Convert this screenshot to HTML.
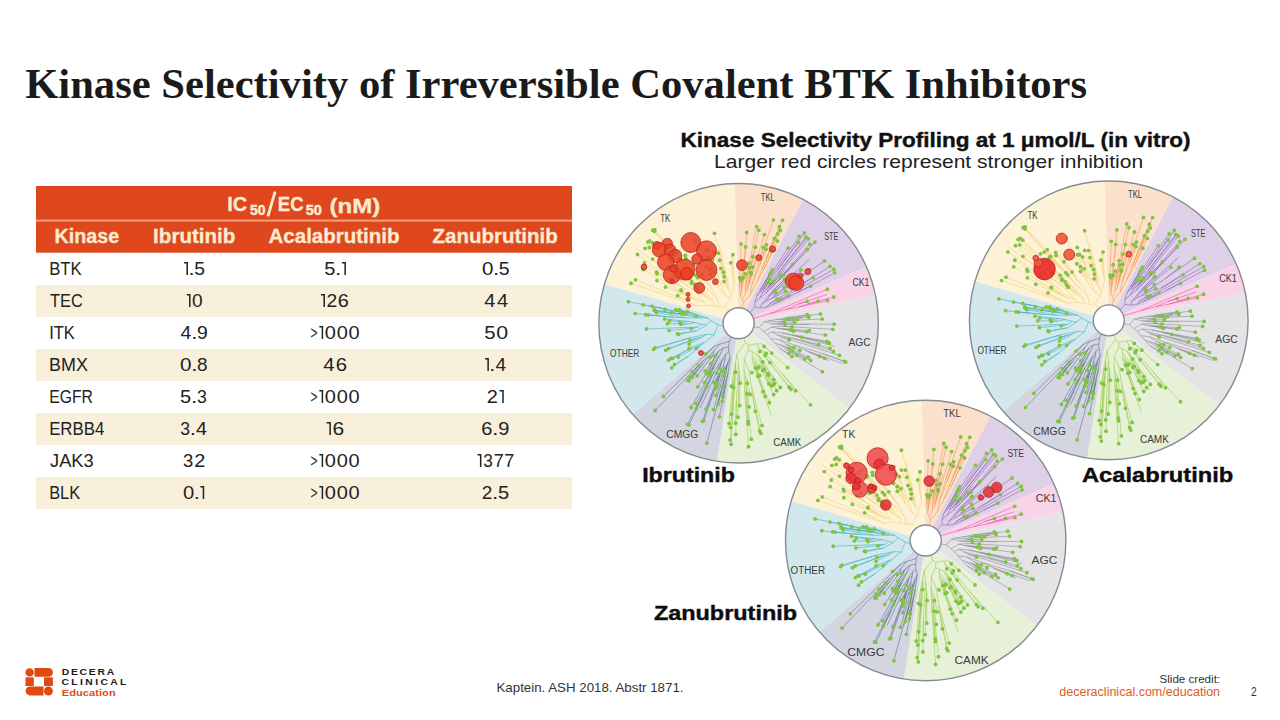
<!DOCTYPE html>
<html><head><meta charset="utf-8"><style>
html,body{margin:0;padding:0;background:#fff;width:1280px;height:720px;overflow:hidden}
svg{display:block}
</style></head><body>
<svg width="1280" height="720" viewBox="0 0 1280 720">
<defs><g id="tree"><path d="M0 0L-133.9 -39.2A139.5 139.5 0 0 1 -3.9 -139.4Z" fill="#FDF2D6"/>
<path d="M0 0L-3.9 -139.4A139.5 139.5 0 0 1 64.4 -123.7Z" fill="#FBE1CB"/>
<path d="M0 0L64.4 -123.7A139.5 139.5 0 0 1 127.5 -56.5Z" fill="#DED1E7"/>
<path d="M0 0L127.5 -56.5A139.5 139.5 0 0 1 136.7 -27.8Z" fill="#F9D4E8"/>
<path d="M0 0L136.7 -27.8A139.5 139.5 0 0 1 110.7 84.9Z" fill="#E4E4E6"/>
<path d="M0 0L110.7 84.9A139.5 139.5 0 0 1 -21.6 137.8Z" fill="#E7F1D7"/>
<path d="M0 0L-21.6 137.8A139.5 139.5 0 0 1 -105.8 91Z" fill="#D3D5E1"/>
<path d="M0 0L-105.8 91A139.5 139.5 0 0 1 -133.9 -39.2Z" fill="#D3E8EC"/>
<path d="M-9.5 -12.3L-14.2 -16.5M-14.2 -16.5L-19.3 -16M-19.3 -16L-24.4 -17.1M-24.4 -17.1L-31.1 -17.9M-31.1 -17.9L-41.6 -17.3M-41.6 -17.3L-107.3 -39.9M-41.6 -17.3L-49.5 -21.6M-49.5 -21.6L-102.9 -43.3M-49.5 -21.6L-60.8 -27.5M-31.1 -17.9L-34.5 -21.1M-34.5 -21.1L-38.1 -22.3M-38.1 -22.3L-41.4 -22.6M-41.4 -22.6L-73 -36.1M-41.4 -22.6L-43.9 -24.3M-43.9 -24.3L-81.4 -42.6M-43.9 -24.3L-46.4 -26M-46.4 -26L-59.9 -32.3M-46.4 -26L-48.9 -27.7M-48.9 -27.7L-52.6 -29.3M-48.9 -27.7L-51.4 -29.3M-51.4 -29.3L-95.1 -53.6M-51.4 -29.3L-54 -30.9M-54 -30.9L-57.5 -32.7M-54 -30.9L-57.4 -33M-38.1 -22.3L-52.1 -33.3M-52.1 -33.3L-60.6 -38.2M-60.6 -38.2L-81.3 -49.3M-60.6 -38.2L-62.9 -40.1M-62.9 -40.1L-82 -50.9M-62.9 -40.1L-65.1 -42.1M-65.1 -42.1L-94 -60.2M-65.1 -42.1L-68.3 -44.6M-52.1 -33.3L-100.9 -68.6M-34.5 -21.1L-42.6 -31.4M-42.6 -31.4L-51.6 -37.8M-51.6 -37.8L-102.4 -74.9M-51.6 -37.8L-64.3 -47.1M-42.6 -31.4L-85.8 -64.1M-24.4 -17.1L-25.4 -22.3M-25.4 -22.3L-28.4 -23.6M-28.4 -23.6L-33.3 -26.9M-33.3 -26.9L-93.4 -74.8M-33.3 -26.9L-40.6 -33.1M-28.4 -23.6L-31.2 -26.2M-31.2 -26.2L-41.2 -34.1M-31.2 -26.2L-37 -31.2M-37 -31.2L-39.3 -33.1M-39.3 -33.1L-42.4 -35.6M-39.3 -33.1L-56 -47.1M-37 -31.2L-41 -34.9M-41 -34.9L-89.1 -75.6M-41 -34.9L-46.9 -40M-25.4 -22.3L-31.8 -29.2M-31.8 -29.2L-35.7 -32.5M-35.7 -32.5L-38.3 -34M-38.3 -34L-40.7 -35.9M-40.7 -35.9L-46.9 -41.4M-40.7 -35.9L-43.6 -38.6M-38.3 -34L-90.6 -81M-35.7 -32.5L-39.8 -37M-39.8 -37L-43.2 -40M-43.2 -40L-48.6 -45.1M-43.2 -40L-88.7 -82.2M-39.8 -37L-48.1 -44.8M-48.1 -44.8L-55.2 -51.5M-48.1 -44.8L-86.1 -80.3M-31.8 -29.2L-68.4 -66.7M-19.3 -16L-21.3 -24.6M-21.3 -24.6L-29.3 -32.1M-29.3 -32.1L-47.9 -50.8M-47.9 -50.8L-64.7 -68.4M-47.9 -50.8L-59.4 -63.2M-29.3 -32.1L-34.4 -38M-34.4 -38L-36.5 -40.2M-36.5 -40.2L-47.3 -51.6M-47.3 -51.6L-69.9 -76M-69.9 -76L-85.6 -92.8M-69.9 -76L-85.5 -93M-47.3 -51.6L-50.9 -55.8M-50.9 -55.8L-83.9 -91.7M-50.9 -55.8L-58.2 -63.9M-36.5 -40.2L-38.3 -42.6M-38.3 -42.6L-41 -45.5M-38.3 -42.6L-40.2 -44.9M-40.2 -44.9L-42.9 -47.8M-40.2 -44.9L-83.7 -93.5M-34.4 -38L-61.6 -70.8M-21.3 -24.6L-27.6 -35.8M-27.6 -35.8L-31.2 -40M-31.2 -40L-52.7 -64.9M-31.2 -40L-32.8 -42.6M-32.8 -42.6L-53.2 -67.8M-32.8 -42.6L-34.4 -45.2M-34.4 -45.2L-44.8 -58.7M-34.4 -45.2L-36.8 -48.4M-27.6 -35.8L-52.3 -70.5M-14.2 -16.5L-8.4 -24.3M-8.4 -24.3L-13.9 -28.3M-13.9 -28.3L-19.6 -35.9M-19.6 -35.9L-24.8 -43.4M-24.8 -43.4L-28.2 -49M-24.8 -43.4L-32 -56.7M-19.6 -35.9L-21.6 -41.4M-21.6 -41.4L-28.3 -53.7M-21.6 -41.4L-42.6 -82.4M-13.9 -28.3L-16.9 -37.8M-16.9 -37.8L-21 -43.9M-21 -43.9L-24.7 -51.6M-21 -43.9L-31.3 -65.7M-16.9 -37.8L-21.2 -49.5M-21.2 -49.5L-29.1 -65.7M-21.2 -49.5L-23.8 -56.5M-23.8 -56.5L-31.5 -73.1M-23.8 -56.5L-26.1 -63.5M-8.4 -24.3L-7.3 -28.8M-7.3 -28.8L-9.8 -32.6M-9.8 -32.6L-11.2 -35.3M-11.2 -35.3L-13.1 -37.8M-13.1 -37.8L-14.6 -41.6M-13.1 -37.8L-24.1 -70.1M-11.2 -35.3L-11.6 -38.3M-11.6 -38.3L-17.7 -54.8M-11.6 -38.3L-12.3 -41.2M-12.3 -41.2L-14.4 -46.4M-12.3 -41.2L-13 -44.2M-13 -44.2L-14 -47M-14 -47L-18.8 -62.9M-14 -47L-15.1 -50.9M-13 -44.2L-20.2 -69.9M-9.8 -32.6L-10.6 -40.8M-10.6 -40.8L-12.4 -46.2M-12.4 -46.2L-24.1 -89.8M-12.4 -46.2L-15.3 -57.4M-10.6 -40.8L-19.4 -78.2M-7.3 -28.8L-4.2 -39.8M-4.2 -39.8L-5.5 -46.1M-5.5 -46.1L-7.9 -60.3M-5.5 -46.1L-7.1 -67.5M-4.2 -39.8L-5.7 -68.4" stroke="#F4D27A" stroke-width="0.6" fill="none"/>
<path d="M3.5 -15.1L4.8 -20.4M4.8 -20.4L3.7 -23.6M3.7 -23.6L2 -26.9M2 -26.9L1 -35.2M1 -35.2L1.1 -45.4M1 -35.2L2.4 -79.2M2 -26.9L2.6 -31.2M2.6 -31.2L2.6 -34.2M2.6 -34.2L2.1 -43.1M2.6 -34.2L3.1 -37.2M3.1 -37.2L2.8 -40.2M2.8 -40.2L2.6 -44.2M2.8 -40.2L3.2 -43.2M3.2 -43.2L3.4 -47.2M3.2 -43.2L4.4 -55.8M3.1 -37.2L3.8 -40.1M3.8 -40.1L5.6 -61.2M5.6 -61.2L8.1 -90.6M5.6 -61.2L7 -76.1M3.8 -40.1L4.6 -45.4M2.6 -31.2L6.6 -49.4M3.7 -23.6L6.7 -29.9M6.7 -29.9L6.7 -34.1M6.7 -34.1L7.1 -39.4M7.1 -39.4L7.4 -42.4M7.4 -42.4L7.6 -45.4M7.6 -45.4L8.1 -49.4M7.6 -45.4L10.3 -59.9M7.4 -42.4L18 -96.5M7.1 -39.4L11 -55.4M6.7 -34.1L10.6 -49M10.6 -49L14.2 -66.4M10.6 -49L12.7 -58.3M12.7 -58.3L20.2 -92.9M12.7 -58.3L16.7 -75.9M6.7 -29.9L8.6 -33.1M8.6 -33.1L9.2 -36.6M9.2 -36.6L12.2 -50.6M9.2 -36.6L10.1 -39.5M10.1 -39.5L10.7 -42.4M10.7 -42.4L14.1 -56.3M10.7 -42.4L11.5 -45.3M11.5 -45.3L12.4 -49.2M11.5 -45.3L12.5 -49.2M10.1 -39.5L17.3 -66.4M8.6 -33.1L25.8 -88.5M4.8 -20.4L11.6 -28.5M11.6 -28.5L13.2 -38.1M13.2 -38.1L20.1 -60.7M20.1 -60.7L24.6 -75.8M20.1 -60.7L34.8 -103M13.2 -38.1L21 -57.7M21 -57.7L27.8 -78.3M21 -57.7L27.4 -73.9M11.6 -28.5L18.1 -40.9M18.1 -40.9L23 -53.4M23 -53.4L27 -63.4M27 -63.4L30.4 -71.8M30.4 -71.8L32.6 -77.4M32.6 -77.4L35.7 -84.8M32.6 -77.4L40.7 -96.3M30.4 -71.8L43.9 -102.8M27 -63.4L39 -89.3M23 -53.4L41.6 -92.6M18.1 -40.9L25 -53.2M25 -53.2L38.6 -82.1M25 -53.2L34.1 -72.3" stroke="#F29A52" stroke-width="0.6" fill="none"/>
<path d="M11.3 -10.6L16.2 -15.9M16.2 -15.9L16.2 -20.7M16.2 -20.7L18.1 -27.1M18.1 -27.1L21.5 -33.3M21.5 -33.3L25.8 -40.4M25.8 -40.4L33.7 -53.2M25.8 -40.4L29.2 -45.5M29.2 -45.5L31.3 -48.9M29.2 -45.5L32.6 -50.8M21.5 -33.3L49.5 -74.9M18.1 -27.1L21.4 -30.7M21.4 -30.7L27.8 -39.9M21.4 -30.7L25.5 -36.6M25.5 -36.6L60.5 -86.7M25.5 -36.6L30.6 -43.9M16.2 -20.7L21 -25M21 -25L23.9 -30.5M23.9 -30.5L25.1 -34.1M25.1 -34.1L39.6 -54M39.6 -54L65.6 -90.2M39.6 -54L59.5 -80.5M25.1 -34.1L30.1 -40.3M23.9 -30.5L26.3 -32.4M26.3 -32.4L39.2 -49.8M39.2 -49.8L67.2 -86M39.2 -49.8L68.9 -86.6M26.3 -32.4L29.3 -35.5M29.3 -35.5L34.3 -41.5M29.3 -35.5L32.2 -38.9M32.2 -38.9L34.7 -42M32.2 -38.9L69.7 -84.3M21 -25L27.2 -29.9M27.2 -29.9L31.7 -36.8M31.7 -36.8L41.2 -47.8M31.7 -36.8L46.6 -54M27.2 -29.9L32 -34.6M32 -34.6L71.1 -79M32 -34.6L38 -40.8M38 -40.8L53.8 -58.5M38 -40.8L40.2 -42.9M40.2 -42.9L42.2 -45.2M42.2 -45.2L44.9 -48.1M42.2 -45.2L68.6 -73.5M40.2 -42.9L76.2 -81M16.2 -15.9L21.6 -15.3M21.6 -15.3L23.4 -19.3M23.4 -19.3L33.2 -31.5M33.2 -31.5L45.6 -43.4M33.2 -31.5L46.3 -43.8M23.4 -19.3L28.2 -22.5M28.2 -22.5L30.8 -27.1M30.8 -27.1L33.5 -29.9M33.5 -29.9L70.3 -63.6M33.5 -29.9L36.7 -32.4M30.8 -27.1L62.3 -53.1M28.2 -22.5L32.2 -24.2M32.2 -24.2L34.9 -26.9M34.9 -26.9L37.2 -30.4M34.9 -26.9L37.7 -28.5M37.7 -28.5L45.7 -35.8M37.7 -28.5L56.9 -42.1M56.9 -42.1L70.5 -53.2M56.9 -42.1L85.9 -62.2M32.2 -24.2L47 -31.9M21.6 -15.3L27.6 -15.8M27.6 -15.8L30.2 -18.8M30.2 -18.8L38.4 -24.2M30.2 -18.8L52.2 -32.2M52.2 -32.2L91.2 -56.7M52.2 -32.2L74.4 -45.6M27.6 -15.8L33.9 -18.5M33.9 -18.5L38.1 -21.9M38.1 -21.9L41.7 -24.3M38.1 -21.9L95.1 -53.9M33.9 -18.5L38.8 -20.6M38.8 -20.6L50.1 -27.4M38.8 -20.6L57.5 -30M57.5 -30L95.8 -50.3M57.5 -30L71.8 -37.1" stroke="#8B62B6" stroke-width="0.6" fill="none"/>
<path d="M14.8 -4.7L31.1 -9.5M31.1 -9.5L88.5 -34M31.1 -9.5L47.3 -13.7M47.3 -13.7L58.6 -18.8M58.6 -18.8L88 -28.6M58.6 -18.8L68.4 -21.8M47.3 -13.7L60.4 -16.3M60.4 -16.3L69.5 -19.3M69.5 -19.3L79.4 -22.1M69.5 -19.3L95 -26.2M60.4 -16.3L88.7 -22.7" stroke="#E94FAE" stroke-width="0.6" fill="none"/>
<path d="M15.1 3.5L20.5 4.3M20.5 4.3L25.7 -1.5M25.7 -1.5L29.8 -2.3M29.8 -2.3L36.8 -3.6M36.8 -3.6L47.4 -5.5M47.4 -5.5L68.4 -8.5M47.4 -5.5L60.2 -6.7M60.2 -6.7L81.7 -9.2M60.2 -6.7L72.8 -8M36.8 -3.6L42.5 -3.7M42.5 -3.7L45.5 -4.2M45.5 -4.2L49.5 -4.6M45.5 -4.2L63.4 -5.8M42.5 -3.7L46.7 -3.9M46.7 -3.9L64.3 -5.5M46.7 -3.9L49.7 -4.2M49.7 -4.2L53.6 -4.5M49.7 -4.2L70.1 -5.9M29.8 -2.3L38.6 -1.5M38.6 -1.5L48.5 -2.7M48.5 -2.7L58.7 -3.7M48.5 -2.7L83.4 -4.2M38.6 -1.5L41.6 -1M41.6 -1L45.6 -1.3M41.6 -1L55.7 -1M25.7 -1.5L33.6 0.6M33.6 0.6L95.4 1M33.6 0.6L38.2 0.8M38.2 0.8L70.6 1.4M38.2 0.8L46.4 1M20.5 4.3L25.1 8.2M25.1 8.2L33.1 3.7M33.1 3.7L44 3M44 3L94 6.1M44 3L53.4 3.7M33.1 3.7L38.2 4.9M38.2 4.9L70.6 7.3M38.2 4.9L41.7 5.5M41.7 5.5L44.7 5.8M44.7 5.8L47.7 6M47.7 6L50.7 6.3M50.7 6.3L54.6 6.8M50.7 6.3L68.1 8.6M47.7 6L51.6 6.7M44.7 5.8L86.6 11.8M41.7 5.5L54.7 7.9M25.1 8.2L28.7 11.3M28.7 11.3L33.1 8.7M33.1 8.7L43 9.5M43 9.5L53.3 11.5M53.3 11.5L88.2 18M53.3 11.5L56.2 12.3M56.2 12.3L90.6 19.7M56.2 12.3L59.1 13M59.1 13L88.9 19.6M59.1 13L63 13.9M43 9.5L95.8 23M33.1 8.7L38.3 11.5M38.3 11.5L53 14.8M53 14.8L63.5 17.2M63.5 17.2L79.7 21.4M63.5 17.2L91.3 25M53 14.8L94.7 28.1M38.3 11.5L42.2 13.6M42.2 13.6L46.9 14.9M46.9 14.9L100.7 32.1M46.9 14.9L50.7 16.2M42.2 13.6L50.4 16.5M28.7 11.3L32.1 15.3M32.1 15.3L40.8 16.4M40.8 16.4L55.7 21.7M55.7 21.7L83.1 30M83.1 30L106.9 38.6M83.1 30L105.7 38.2M55.7 21.7L66.8 27M66.8 27L103.5 40M66.8 27L70.1 28.7M70.1 28.7L75.8 30.8M75.8 30.8L85.9 35M75.8 30.8L81 33M70.1 28.7L90.3 37.4M40.8 16.4L47.2 20.8M47.2 20.8L55.2 24.2M47.2 20.8L61.1 27.1M32.1 15.3L36.1 19.6M36.1 19.6L40.2 21.1M40.2 21.1L44.4 22.4M44.4 22.4L47.3 23.1M47.3 23.1L69.6 33.8M47.3 23.1L50.9 25.1M44.4 22.4L47.2 24.3M47.2 24.3L49.9 25.7M49.9 25.7L53.5 27.5M49.9 25.7L72 37.1M47.2 24.3L73.1 37.8M40.2 21.1L48 26.7M48 26.7L52.5 28.7M52.5 28.7L66 35.7M52.5 28.7L58.2 32.1M48 26.7L83.6 48.3M36.1 19.6L41.3 25.3M41.3 25.3L50.4 30.3M41.3 25.3L53.4 33.3" stroke="#8C8F96" stroke-width="0.6" fill="none"/>
<path d="M5.8 14.4L6.7 19.6M6.7 19.6L10.1 21.9M10.1 21.9L18.3 20.5M18.3 20.5L22.6 20.4M22.6 20.4L26.1 23.5M26.1 23.5L33.1 29.8M26.1 23.5L49 44.2M22.6 20.4L25.5 23.1M18.3 20.5L19.6 23.8M19.6 23.8L21.7 26M21.7 26L24.4 27.6M24.4 27.6L27.7 30M24.4 27.6L43.1 50M43.1 50L71.8 81.4M43.1 50L56.9 67.5M21.7 26L23.6 29.4M23.6 29.4L26.4 32.3M23.6 29.4L26.8 33.8M26.8 33.8L28.7 36.1M28.7 36.1L31.4 39.4M28.7 36.1L52.3 65.9M26.8 33.8L50.4 63.8M19.6 23.8L21.1 28.3M10.1 21.9L9.7 27M9.7 27L13.8 28.5M13.8 28.5L18.1 30.7M18.1 30.7L20.6 32.6M20.6 32.6L41.6 64.1M20.6 32.6L22 35.3M22 35.3L35.1 56.2M22 35.3L24.1 38.7M18.1 30.7L21.1 37M21.1 37L35.9 60.4M21.1 37L22.4 39.7M22.4 39.7L25.5 44.4M25.5 44.4L29.5 50.5M25.5 44.4L26.9 47.3M26.9 47.3L29.7 51.9M26.9 47.3L38 67.3M22.4 39.7L23.4 42.6M23.4 42.6L25.4 46.1M23.4 42.6L34 62M13.8 28.5L13.5 31.9M13.5 31.9L20.8 41.1M20.8 41.1L32.7 62.6M20.8 41.1L22 43.8M22 43.8L24.1 47.2M22 43.8L26.4 53.3M26.4 53.3L30.2 60.4M26.4 53.3L35 71.2M13.5 31.9L13.7 35.2M13.7 35.2L15.9 37.6M15.9 37.6L17.8 40.3M17.8 40.3L19.9 43.7M17.8 40.3L19.2 44.8M15.9 37.6L18.1 44.7M18.1 44.7L20.5 50.5M18.1 44.7L21 52.1M13.7 35.2L14 38.3M14 38.3L15.6 40.9M15.6 40.9L30.7 79.3M15.6 40.9L16.8 44.7M14 38.3L16.6 46.3M16.6 46.3L17.8 49.1M17.8 49.1L19.2 52.8M17.8 49.1L26.4 73M16.6 46.3L19 53.3M19 53.3L24.4 68.3M19 53.3L32.5 91.5M9.7 27L5.6 35.9M5.6 35.9L9.9 45.9M9.9 45.9L13.3 49.2M9.9 45.9L13.1 64.4M13.1 64.4L23.4 102.1M13.1 64.4L13.9 71.4M13.9 71.4L22.1 109.8M13.9 71.4L15.2 79M15.2 79L20.9 107.4M15.2 79L16.7 88M5.6 35.9L5.4 46.3M5.4 46.3L7 53.1M7 53.1L8.6 55.9M8.6 55.9L11.5 71.1M8.6 55.9L8.7 59.9M7 53.1L7.1 60.2M7.1 60.2L7.8 63.6M7.8 63.6L10.5 83.5M7.8 63.6L8.5 70.4M7.1 60.2L12.7 115.7M5.4 46.3L5.9 64.8M5.9 64.8L7.6 78.2M7.6 78.2L9.8 100.6M7.6 78.2L9.5 97.9M5.9 64.8L9.9 123.3M6.7 19.6L-1.5 30.2M-1.5 30.2L-0.2 41.1M-0.2 41.1L0.5 47.6M0.5 47.6L1 52M1 52L1.5 59.8M1 52L1 82.2M0.5 47.6L-0.6 93.7M-0.2 41.1L-2.1 76.2M-2.1 76.2L-2.8 110.9M-2.1 76.2L-3 99.7M-1.5 30.2L-3.1 38.8M-3.1 38.8L-3 41.8M-3 41.8L-2.8 44.8M-2.8 44.8L-7.4 120.8M-2.8 44.8L-3.1 48.8M-3 41.8L-4.1 54.3M-4.1 54.3L-8.5 116.6M-4.1 54.3L-4.4 57.3M-4.4 57.3L-7.9 104.1M-4.4 57.3L-4.7 60.3M-4.7 60.3L-5 64.3M-4.7 60.3L-7.1 90.8M-3.1 38.8L-5 48.3M-5 48.3L-9.5 100.1M-5 48.3L-7.1 62.8" stroke="#9BCB52" stroke-width="0.6" fill="none"/>
<path d="M-7.5 13.5L-9.2 17.9M-9.2 17.9L-10.1 23.7M-10.1 23.7L-9.8 28.3M-9.8 28.3L-8.5 34M-8.5 34L-10.5 49.2M-10.5 49.2L-12.5 60M-12.5 60L-19.2 93.4M-12.5 60L-14.1 67.4M-14.1 67.4L-16.3 77.9M-14.1 67.4L-15.4 73.2M-10.5 49.2L-16.5 72.2M-8.5 34L-10.4 38.4M-10.4 38.4L-13.6 53M-13.6 53L-14.2 55.9M-14.2 55.9L-14.8 58.9M-14.8 58.9L-15.7 62.8M-14.8 58.9L-20.3 80.5M-14.2 55.9L-21.9 84.7M-13.6 53L-31.7 119.7M-10.4 38.4L-11.7 41.2M-11.7 41.2L-12.3 44.1M-12.3 44.1L-14.6 52.6M-12.3 44.1L-13.4 48M-11.7 41.2L-12.7 44M-12.7 44L-13.7 47.9M-12.7 44L-25.1 86.2M-9.8 28.3L-12.8 30.9M-12.8 30.9L-13.4 35.3M-13.4 35.3L-14.8 40.9M-14.8 40.9L-14.5 44.2M-14.5 44.2L-22.6 71.9M-14.5 44.2L-16.4 47.8M-14.8 40.9L-17.3 46.5M-17.3 46.5L-18.2 49.7M-18.2 49.7L-18.9 52.8M-18.9 52.8L-19.9 55.7M-19.9 55.7L-20.9 58.5M-20.9 58.5L-22.2 62.3M-20.9 58.5L-23.3 65.2M-19.9 55.7L-21.8 61M-18.9 52.8L-34.8 97.2M-18.2 49.7L-19.8 52.3M-19.8 52.3L-36 97.9M-19.8 52.3L-21.1 55M-21.1 55L-32.6 85.7M-21.1 55L-22.7 58.7M-17.3 46.5L-24.3 59.5M-13.4 35.3L-16.7 38.1M-16.7 38.1L-17.7 40.9M-17.7 40.9L-19.2 44.7M-17.7 40.9L-21.7 49.8M-16.7 38.1L-38.5 84.7M-12.8 30.9L-24.2 47.9M-24.2 47.9L-28.2 56.6M-28.2 56.6L-34.8 70.8M-34.8 70.8L-49.4 101.4M-34.8 70.8L-42.2 85.3M-28.2 56.6L-30 59.4M-30 59.4L-51 101M-30 59.4L-31.9 63M-24.2 47.9L-42.6 80.2M-10.1 23.7L-15.4 24.7M-15.4 24.7L-18.7 31.7M-18.7 31.7L-21.2 36.7M-21.2 36.7L-23.4 41.1M-23.4 41.1L-24.7 44.1M-24.7 44.1L-26.4 47.2M-26.4 47.2L-28.5 51.1M-26.4 47.2L-29.2 52.3M-24.7 44.1L-47.4 84.1M-23.4 41.1L-25.2 43.5M-25.2 43.5L-27 47M-27 47L-33.9 59.2M-27 47L-30.8 53.4M-25.2 43.5L-27.6 47.2M-21.2 36.7L-30.5 49.6M-18.7 31.7L-25.1 39.1M-25.1 39.1L-32.3 50.3M-25.1 39.1L-40.8 63.6M-15.4 24.7L-19.3 27.2M-19.3 27.2L-22.5 32.7M-22.5 32.7L-27.8 40.4M-22.5 32.7L-33.2 47.9M-19.3 27.2L-21.3 29.4M-21.3 29.4L-23.5 32.8M-21.3 29.4L-23.8 32.6M-9.2 17.9L-19.2 21M-19.2 21L-24.6 27.7M-24.6 27.7L-25.2 31.2M-25.2 31.2L-41.4 52.5M-25.2 31.2L-28.2 33.9M-24.6 27.7L-30.1 33.2M-30.1 33.2L-35.2 40.3M-35.2 40.3L-42 48.8M-42 48.8L-49.4 57.4M-42 48.8L-46.4 53.9M-35.2 40.3L-40.3 45.5M-40.3 45.5L-50.9 57.9M-40.3 45.5L-50.7 57M-30.1 33.2L-35.2 37.3M-35.2 37.3L-49.5 53.5M-35.2 37.3L-37.4 39.4M-37.4 39.4L-40 42.4M-37.4 39.4L-40.6 42.6M-40.6 42.6L-46.2 48.5M-40.6 42.6L-83.3 87.1M-19.2 21L-24.3 23.1M-24.3 23.1L-75 73M-24.3 23.1L-32.8 30.7" stroke="#5F7396" stroke-width="0.6" fill="none"/>
<path d="M-15.1 3.3L-20.2 1.5M-20.2 1.5L-24.5 11.5M-24.5 11.5L-33.9 19.2M-33.9 19.2L-50.1 32.8M-50.1 32.8L-66.8 44.5M-50.1 32.8L-64 41.1M-33.9 19.2L-37 20M-37 20L-39.1 22.5M-39.1 22.5L-42.2 25M-39.1 22.5L-60.2 33.7M-37 20L-45.6 23.8M-45.6 23.8L-50.3 26.4M-50.3 26.4L-58.2 30.8M-58.2 30.8L-66.2 35.2M-58.2 30.8L-69.9 36.9M-50.3 26.4L-67.2 35M-45.6 23.8L-49.4 25.2M-24.5 11.5L-31.7 11.1M-31.7 11.1L-35.9 13.5M-35.9 13.5L-49.3 20.7M-35.9 13.5L-40.6 14.7M-40.6 14.7L-72.8 27M-40.6 14.7L-43.6 15.5M-43.6 15.5L-70.1 25.3M-43.6 15.5L-48.5 17M-31.7 11.1L-48.5 14.5M-48.5 14.5L-84.8 26M-48.5 14.5L-83.4 24.5M-20.2 1.5L-27.3 -2.5M-27.3 -2.5L-32.2 1.8M-32.2 1.8L-41.7 7.5M-41.7 7.5L-59.9 11.1M-41.7 7.5L-60.9 10.6M-32.2 1.8L-36.8 0.9M-36.8 0.9L-40.6 3.8M-40.6 3.8L-43.6 4.7M-43.6 4.7L-47.5 5.4M-43.6 4.7L-69.4 7.3M-40.6 3.8L-92 5.7M-36.8 0.9L-43.4 -0.7M-43.4 -0.7L-51.4 0.7M-51.4 0.7L-57.6 1.1M-51.4 0.7L-71 0.4M-43.4 -0.7L-49.4 -1.7M-49.4 -1.7L-54.5 -1.3M-54.5 -1.3L-58.5 -0.8M-54.5 -1.3L-69.1 -2.5M-49.4 -1.7L-73.9 -4.2M-27.3 -2.5L-30.8 -5.2M-30.8 -5.2L-52 -5.3M-52 -5.3L-64.6 -6M-64.6 -6L-79.3 -7.3M-79.3 -7.3L-92.7 -8.5M-79.3 -7.3L-90.2 -8.3M-64.6 -6L-103.3 -9.7M-52 -5.3L-82 -10.7M-30.8 -5.2L-35.6 -6.6M-35.6 -6.6L-38.7 -6.1M-38.7 -6.1L-43.5 -6.8M-43.5 -6.8L-82.4 -11.8M-43.5 -6.8L-49.2 -7.8M-49.2 -7.8L-84.2 -12.8M-49.2 -7.8L-52.2 -8.4M-52.2 -8.4L-56.7 -9.1M-56.7 -9.1L-66.8 -10.6M-56.7 -9.1L-84 -13.4M-52.2 -8.4L-56.1 -9.1M-38.7 -6.1L-42.6 -7.1M-35.6 -6.6L-40.4 -8.2M-40.4 -8.2L-50.7 -9.6M-50.7 -9.6L-54.8 -9.7M-50.7 -9.6L-59.7 -11.5M-59.7 -11.5L-73.6 -13.7M-59.7 -11.5L-71 -13.8M-71 -13.8L-95.3 -18.3M-71 -13.8L-76.1 -14.9M-76.1 -14.9L-86.2 -16.9M-76.1 -14.9L-110 -21.5M-40.4 -8.2L-44.5 -9.6M-44.5 -9.6L-50.5 -10.5M-50.5 -10.5L-58.3 -11.8M-50.5 -10.5L-54.7 -11.6M-54.7 -11.6L-62.8 -13.1M-54.7 -11.6L-62.5 -13.4M-44.5 -9.6L-47.4 -10.7M-47.4 -10.7L-51.3 -11.5M-47.4 -10.7L-59 -13.4" stroke="#3FB2C2" stroke-width="0.6" fill="none"/>
<g fill="#80C342"><circle cx="-107.3" cy="-39.9" r="1.9"/><circle cx="-102.9" cy="-43.3" r="1.9"/><circle cx="-60.8" cy="-27.5" r="1.9"/><circle cx="-73" cy="-36.1" r="1.9"/><circle cx="-81.4" cy="-42.6" r="1.9"/><circle cx="-95.1" cy="-53.6" r="1.9"/><circle cx="-57.5" cy="-32.7" r="1.9"/><circle cx="-57.4" cy="-33" r="1.9"/><circle cx="-81.3" cy="-49.3" r="1.9"/><circle cx="-82" cy="-50.9" r="1.9"/><circle cx="-94" cy="-60.2" r="1.9"/><circle cx="-68.3" cy="-44.6" r="1.9"/><circle cx="-100.9" cy="-68.6" r="1.9"/><circle cx="-64.3" cy="-47.1" r="1.9"/><circle cx="-85.8" cy="-64.1" r="1.9"/><circle cx="-93.4" cy="-74.8" r="1.9"/><circle cx="-40.6" cy="-33.1" r="1.9"/><circle cx="-41.2" cy="-34.1" r="1.9"/><circle cx="-42.4" cy="-35.6" r="1.9"/><circle cx="-56" cy="-47.1" r="1.9"/><circle cx="-89.1" cy="-75.6" r="1.9"/><circle cx="-46.9" cy="-40" r="1.9"/><circle cx="-46.9" cy="-41.4" r="1.9"/><circle cx="-43.6" cy="-38.6" r="1.9"/><circle cx="-90.6" cy="-81" r="1.9"/><circle cx="-48.6" cy="-45.1" r="1.9"/><circle cx="-88.7" cy="-82.2" r="1.9"/><circle cx="-86.1" cy="-80.3" r="1.9"/><circle cx="-68.4" cy="-66.7" r="1.9"/><circle cx="-64.7" cy="-68.4" r="1.9"/><circle cx="-59.4" cy="-63.2" r="1.9"/><circle cx="-85.6" cy="-92.8" r="1.9"/><circle cx="-85.5" cy="-93" r="1.9"/><circle cx="-83.9" cy="-91.7" r="1.9"/><circle cx="-58.2" cy="-63.9" r="1.9"/><circle cx="-41" cy="-45.5" r="1.9"/><circle cx="-42.9" cy="-47.8" r="1.9"/><circle cx="-83.7" cy="-93.5" r="1.9"/><circle cx="-61.6" cy="-70.8" r="1.9"/><circle cx="-52.7" cy="-64.9" r="1.9"/><circle cx="-53.2" cy="-67.8" r="1.9"/><circle cx="-44.8" cy="-58.7" r="1.9"/><circle cx="-36.8" cy="-48.4" r="1.9"/><circle cx="-28.2" cy="-49" r="1.9"/><circle cx="-32" cy="-56.7" r="1.9"/><circle cx="-28.3" cy="-53.7" r="1.9"/><circle cx="-42.6" cy="-82.4" r="1.9"/><circle cx="-24.7" cy="-51.6" r="1.9"/><circle cx="-31.3" cy="-65.7" r="1.9"/><circle cx="-29.1" cy="-65.7" r="1.9"/><circle cx="-31.5" cy="-73.1" r="1.9"/><circle cx="-26.1" cy="-63.5" r="1.9"/><circle cx="-14.6" cy="-41.6" r="1.9"/><circle cx="-24.1" cy="-70.1" r="1.9"/><circle cx="-17.7" cy="-54.8" r="1.9"/><circle cx="-14.4" cy="-46.4" r="1.9"/><circle cx="-18.8" cy="-62.9" r="1.9"/><circle cx="-15.1" cy="-50.9" r="1.9"/><circle cx="-20.2" cy="-69.9" r="1.9"/><circle cx="-24.1" cy="-89.8" r="1.9"/><circle cx="-7.9" cy="-60.3" r="1.9"/><circle cx="-5.7" cy="-68.4" r="1.9"/><circle cx="1.1" cy="-45.4" r="1.9"/><circle cx="2.4" cy="-79.2" r="1.9"/><circle cx="2.1" cy="-43.1" r="1.9"/><circle cx="2.6" cy="-44.2" r="1.9"/><circle cx="4.4" cy="-55.8" r="1.9"/><circle cx="8.1" cy="-90.6" r="1.9"/><circle cx="7" cy="-76.1" r="1.9"/><circle cx="4.6" cy="-45.4" r="1.9"/><circle cx="6.6" cy="-49.4" r="1.9"/><circle cx="10.3" cy="-59.9" r="1.9"/><circle cx="18" cy="-96.5" r="1.9"/><circle cx="11" cy="-55.4" r="1.9"/><circle cx="14.2" cy="-66.4" r="1.9"/><circle cx="20.2" cy="-92.9" r="1.9"/><circle cx="16.7" cy="-75.9" r="1.9"/><circle cx="12.2" cy="-50.6" r="1.9"/><circle cx="14.1" cy="-56.3" r="1.9"/><circle cx="12.5" cy="-49.2" r="1.9"/><circle cx="25.8" cy="-88.5" r="1.9"/><circle cx="24.6" cy="-75.8" r="1.9"/><circle cx="34.8" cy="-103" r="1.9"/><circle cx="27.8" cy="-78.3" r="1.9"/><circle cx="27.4" cy="-73.9" r="1.9"/><circle cx="35.7" cy="-84.8" r="1.9"/><circle cx="40.7" cy="-96.3" r="1.9"/><circle cx="43.9" cy="-102.8" r="1.9"/><circle cx="39" cy="-89.3" r="1.9"/><circle cx="41.6" cy="-92.6" r="1.9"/><circle cx="38.6" cy="-82.1" r="1.9"/><circle cx="34.1" cy="-72.3" r="1.9"/><circle cx="33.7" cy="-53.2" r="1.9"/><circle cx="31.3" cy="-48.9" r="1.9"/><circle cx="32.6" cy="-50.8" r="1.9"/><circle cx="49.5" cy="-74.9" r="1.9"/><circle cx="27.8" cy="-39.9" r="1.9"/><circle cx="60.5" cy="-86.7" r="1.9"/><circle cx="30.6" cy="-43.9" r="1.9"/><circle cx="65.6" cy="-90.2" r="1.9"/><circle cx="59.5" cy="-80.5" r="1.9"/><circle cx="30.1" cy="-40.3" r="1.9"/><circle cx="67.2" cy="-86" r="1.9"/><circle cx="34.3" cy="-41.5" r="1.9"/><circle cx="34.7" cy="-42" r="1.9"/><circle cx="69.7" cy="-84.3" r="1.9"/><circle cx="41.2" cy="-47.8" r="1.9"/><circle cx="71.1" cy="-79" r="1.9"/><circle cx="53.8" cy="-58.5" r="1.9"/><circle cx="44.9" cy="-48.1" r="1.9"/><circle cx="68.6" cy="-73.5" r="1.9"/><circle cx="76.2" cy="-81" r="1.9"/><circle cx="45.6" cy="-43.4" r="1.9"/><circle cx="46.3" cy="-43.8" r="1.9"/><circle cx="36.7" cy="-32.4" r="1.9"/><circle cx="62.3" cy="-53.1" r="1.9"/><circle cx="37.2" cy="-30.4" r="1.9"/><circle cx="45.7" cy="-35.8" r="1.9"/><circle cx="70.5" cy="-53.2" r="1.9"/><circle cx="85.9" cy="-62.2" r="1.9"/><circle cx="47" cy="-31.9" r="1.9"/><circle cx="38.4" cy="-24.2" r="1.9"/><circle cx="91.2" cy="-56.7" r="1.9"/><circle cx="74.4" cy="-45.6" r="1.9"/><circle cx="41.7" cy="-24.3" r="1.9"/><circle cx="95.1" cy="-53.9" r="1.9"/><circle cx="50.1" cy="-27.4" r="1.9"/><circle cx="95.8" cy="-50.3" r="1.9"/><circle cx="71.8" cy="-37.1" r="1.9"/><circle cx="88.5" cy="-34" r="1.9"/><circle cx="68.4" cy="-21.8" r="1.9"/><circle cx="79.4" cy="-22.1" r="1.9"/><circle cx="95" cy="-26.2" r="1.9"/><circle cx="88.7" cy="-22.7" r="1.9"/><circle cx="68.4" cy="-8.5" r="1.9"/><circle cx="81.7" cy="-9.2" r="1.9"/><circle cx="49.5" cy="-4.6" r="1.9"/><circle cx="53.6" cy="-4.5" r="1.9"/><circle cx="70.1" cy="-5.9" r="1.9"/><circle cx="58.7" cy="-3.7" r="1.9"/><circle cx="83.4" cy="-4.2" r="1.9"/><circle cx="45.6" cy="-1.3" r="1.9"/><circle cx="55.7" cy="-1" r="1.9"/><circle cx="95.4" cy="1" r="1.9"/><circle cx="46.4" cy="1" r="1.9"/><circle cx="94" cy="6.1" r="1.9"/><circle cx="53.4" cy="3.7" r="1.9"/><circle cx="70.6" cy="7.3" r="1.9"/><circle cx="68.1" cy="8.6" r="1.9"/><circle cx="51.6" cy="6.7" r="1.9"/><circle cx="86.6" cy="11.8" r="1.9"/><circle cx="54.7" cy="7.9" r="1.9"/><circle cx="88.2" cy="18" r="1.9"/><circle cx="90.6" cy="19.7" r="1.9"/><circle cx="88.9" cy="19.6" r="1.9"/><circle cx="63" cy="13.9" r="1.9"/><circle cx="79.7" cy="21.4" r="1.9"/><circle cx="91.3" cy="25" r="1.9"/><circle cx="94.7" cy="28.1" r="1.9"/><circle cx="100.7" cy="32.1" r="1.9"/><circle cx="50.7" cy="16.2" r="1.9"/><circle cx="50.4" cy="16.5" r="1.9"/><circle cx="106.9" cy="38.6" r="1.9"/><circle cx="105.7" cy="38.2" r="1.9"/><circle cx="85.9" cy="35" r="1.9"/><circle cx="81" cy="33" r="1.9"/><circle cx="55.2" cy="24.2" r="1.9"/><circle cx="61.1" cy="27.1" r="1.9"/><circle cx="69.6" cy="33.8" r="1.9"/><circle cx="50.9" cy="25.1" r="1.9"/><circle cx="53.5" cy="27.5" r="1.9"/><circle cx="72" cy="37.1" r="1.9"/><circle cx="66" cy="35.7" r="1.9"/><circle cx="58.2" cy="32.1" r="1.9"/><circle cx="83.6" cy="48.3" r="1.9"/><circle cx="50.4" cy="30.3" r="1.9"/><circle cx="53.4" cy="33.3" r="1.9"/><circle cx="33.1" cy="29.8" r="1.9"/><circle cx="49" cy="44.2" r="1.9"/><circle cx="25.5" cy="23.1" r="1.9"/><circle cx="27.7" cy="30" r="1.9"/><circle cx="71.8" cy="81.4" r="1.9"/><circle cx="56.9" cy="67.5" r="1.9"/><circle cx="26.4" cy="32.3" r="1.9"/><circle cx="31.4" cy="39.4" r="1.9"/><circle cx="52.3" cy="65.9" r="1.9"/><circle cx="50.4" cy="63.8" r="1.9"/><circle cx="21.1" cy="28.3" r="1.9"/><circle cx="41.6" cy="64.1" r="1.9"/><circle cx="35.1" cy="56.2" r="1.9"/><circle cx="24.1" cy="38.7" r="1.9"/><circle cx="35.9" cy="60.4" r="1.9"/><circle cx="29.5" cy="50.5" r="1.9"/><circle cx="29.7" cy="51.9" r="1.9"/><circle cx="38" cy="67.3" r="1.9"/><circle cx="25.4" cy="46.1" r="1.9"/><circle cx="34" cy="62" r="1.9"/><circle cx="32.7" cy="62.6" r="1.9"/><circle cx="24.1" cy="47.2" r="1.9"/><circle cx="30.2" cy="60.4" r="1.9"/><circle cx="35" cy="71.2" r="1.9"/><circle cx="19.9" cy="43.7" r="1.9"/><circle cx="19.2" cy="44.8" r="1.9"/><circle cx="21" cy="52.1" r="1.9"/><circle cx="30.7" cy="79.3" r="1.9"/><circle cx="16.8" cy="44.7" r="1.9"/><circle cx="19.2" cy="52.8" r="1.9"/><circle cx="26.4" cy="73" r="1.9"/><circle cx="24.4" cy="68.3" r="1.9"/><circle cx="13.3" cy="49.2" r="1.9"/><circle cx="23.4" cy="102.1" r="1.9"/><circle cx="22.1" cy="109.8" r="1.9"/><circle cx="20.9" cy="107.4" r="1.9"/><circle cx="16.7" cy="88" r="1.9"/><circle cx="11.5" cy="71.1" r="1.9"/><circle cx="8.7" cy="59.9" r="1.9"/><circle cx="10.5" cy="83.5" r="1.9"/><circle cx="8.5" cy="70.4" r="1.9"/><circle cx="12.7" cy="115.7" r="1.9"/><circle cx="9.8" cy="100.6" r="1.9"/><circle cx="9.5" cy="97.9" r="1.9"/><circle cx="9.9" cy="123.3" r="1.9"/><circle cx="1.5" cy="59.8" r="1.9"/><circle cx="1" cy="82.2" r="1.9"/><circle cx="-0.6" cy="93.7" r="1.9"/><circle cx="-2.8" cy="110.9" r="1.9"/><circle cx="-3" cy="99.7" r="1.9"/><circle cx="-7.4" cy="120.8" r="1.9"/><circle cx="-3.1" cy="48.8" r="1.9"/><circle cx="-8.5" cy="116.6" r="1.9"/><circle cx="-7.9" cy="104.1" r="1.9"/><circle cx="-5" cy="64.3" r="1.9"/><circle cx="-7.1" cy="90.8" r="1.9"/><circle cx="-9.5" cy="100.1" r="1.9"/><circle cx="-7.1" cy="62.8" r="1.9"/><circle cx="-19.2" cy="93.4" r="1.9"/><circle cx="-16.3" cy="77.9" r="1.9"/><circle cx="-15.4" cy="73.2" r="1.9"/><circle cx="-16.5" cy="72.2" r="1.9"/><circle cx="-15.7" cy="62.8" r="1.9"/><circle cx="-20.3" cy="80.5" r="1.9"/><circle cx="-31.7" cy="119.7" r="1.9"/><circle cx="-14.6" cy="52.6" r="1.9"/><circle cx="-13.4" cy="48" r="1.9"/><circle cx="-25.1" cy="86.2" r="1.9"/><circle cx="-22.6" cy="71.9" r="1.9"/><circle cx="-16.4" cy="47.8" r="1.9"/><circle cx="-22.2" cy="62.3" r="1.9"/><circle cx="-23.3" cy="65.2" r="1.9"/><circle cx="-21.8" cy="61" r="1.9"/><circle cx="-34.8" cy="97.2" r="1.9"/><circle cx="-36" cy="97.9" r="1.9"/><circle cx="-32.6" cy="85.7" r="1.9"/><circle cx="-22.7" cy="58.7" r="1.9"/><circle cx="-24.3" cy="59.5" r="1.9"/><circle cx="-19.2" cy="44.7" r="1.9"/><circle cx="-21.7" cy="49.8" r="1.9"/><circle cx="-49.4" cy="101.4" r="1.9"/><circle cx="-42.2" cy="85.3" r="1.9"/><circle cx="-51" cy="101" r="1.9"/><circle cx="-31.9" cy="63" r="1.9"/><circle cx="-42.6" cy="80.2" r="1.9"/><circle cx="-28.5" cy="51.1" r="1.9"/><circle cx="-29.2" cy="52.3" r="1.9"/><circle cx="-47.4" cy="84.1" r="1.9"/><circle cx="-33.9" cy="59.2" r="1.9"/><circle cx="-27.6" cy="47.2" r="1.9"/><circle cx="-30.5" cy="49.6" r="1.9"/><circle cx="-32.3" cy="50.3" r="1.9"/><circle cx="-40.8" cy="63.6" r="1.9"/><circle cx="-27.8" cy="40.4" r="1.9"/><circle cx="-33.2" cy="47.9" r="1.9"/><circle cx="-23.5" cy="32.8" r="1.9"/><circle cx="-41.4" cy="52.5" r="1.9"/><circle cx="-28.2" cy="33.9" r="1.9"/><circle cx="-49.4" cy="57.4" r="1.9"/><circle cx="-46.4" cy="53.9" r="1.9"/><circle cx="-50.7" cy="57" r="1.9"/><circle cx="-49.5" cy="53.5" r="1.9"/><circle cx="-40" cy="42.4" r="1.9"/><circle cx="-46.2" cy="48.5" r="1.9"/><circle cx="-83.3" cy="87.1" r="1.9"/><circle cx="-75" cy="73" r="1.9"/><circle cx="-32.8" cy="30.7" r="1.9"/><circle cx="-66.8" cy="44.5" r="1.9"/><circle cx="-64" cy="41.1" r="1.9"/><circle cx="-42.2" cy="25" r="1.9"/><circle cx="-60.2" cy="33.7" r="1.9"/><circle cx="-66.2" cy="35.2" r="1.9"/><circle cx="-69.9" cy="36.9" r="1.9"/><circle cx="-67.2" cy="35" r="1.9"/><circle cx="-49.4" cy="25.2" r="1.9"/><circle cx="-49.3" cy="20.7" r="1.9"/><circle cx="-72.8" cy="27" r="1.9"/><circle cx="-70.1" cy="25.3" r="1.9"/><circle cx="-48.5" cy="17" r="1.9"/><circle cx="-84.8" cy="26" r="1.9"/><circle cx="-83.4" cy="24.5" r="1.9"/><circle cx="-59.9" cy="11.1" r="1.9"/><circle cx="-60.9" cy="10.6" r="1.9"/><circle cx="-47.5" cy="5.4" r="1.9"/><circle cx="-69.4" cy="7.3" r="1.9"/><circle cx="-92" cy="5.7" r="1.9"/><circle cx="-57.6" cy="1.1" r="1.9"/><circle cx="-71" cy="0.4" r="1.9"/><circle cx="-58.5" cy="-0.8" r="1.9"/><circle cx="-69.1" cy="-2.5" r="1.9"/><circle cx="-73.9" cy="-4.2" r="1.9"/><circle cx="-92.7" cy="-8.5" r="1.9"/><circle cx="-90.2" cy="-8.3" r="1.9"/><circle cx="-103.3" cy="-9.7" r="1.9"/><circle cx="-82" cy="-10.7" r="1.9"/><circle cx="-82.4" cy="-11.8" r="1.9"/><circle cx="-84.2" cy="-12.8" r="1.9"/><circle cx="-66.8" cy="-10.6" r="1.9"/><circle cx="-84" cy="-13.4" r="1.9"/><circle cx="-56.1" cy="-9.1" r="1.9"/><circle cx="-42.6" cy="-7.1" r="1.9"/><circle cx="-54.8" cy="-9.7" r="1.9"/><circle cx="-73.6" cy="-13.7" r="1.9"/><circle cx="-95.3" cy="-18.3" r="1.9"/><circle cx="-86.2" cy="-16.9" r="1.9"/><circle cx="-110" cy="-21.5" r="1.9"/><circle cx="-58.3" cy="-11.8" r="1.9"/><circle cx="-62.8" cy="-13.1" r="1.9"/><circle cx="-62.5" cy="-13.4" r="1.9"/><circle cx="-51.3" cy="-11.5" r="1.9"/><circle cx="-59" cy="-13.4" r="1.9"/></g>
<circle r="139.5" fill="none" stroke="#858B92" stroke-width="1.4"/>
<circle r="15.5" fill="#fff" stroke="#858B92" stroke-width="1.4"/></g></defs>
<rect x="36" y="186" width="536" height="66.7" fill="#DF471D"/>
<rect x="36" y="219.6" width="536" height="2" fill="#F3A082"/>
<rect x="36" y="285" width="536" height="32" fill="#F9F0DB"/>
<rect x="36" y="349" width="536" height="32" fill="#F9F0DB"/>
<rect x="36" y="413" width="536" height="32" fill="#F9F0DB"/>
<rect x="36" y="477" width="536" height="32" fill="#F9F0DB"/>
<g fill="#DF4A12"><circle cx="29.65" cy="672.4" r="4.2"/><path d="M34.5 668H48.5A4.4 4.4 0 0 1 48.5 676.8H34.5Z"/><rect x="25.5" y="677.3" width="8.3" height="8.7"/><rect x="44" y="677.3" width="8.9" height="8.7"/><path d="M43.5 686.5H30A4.45 4.45 0 0 0 30 695.4H43.5Z"/><circle cx="48.4" cy="690.95" r="4.5"/></g>
<text x="25.2" y="98.1" font-family='"Liberation Serif", serif' font-size="42.6" font-weight="bold" fill="#1a1a1a" textLength="1061.93" lengthAdjust="spacingAndGlyphs">Kinase Selectivity of Irreversible Covalent BTK Inhibitors</text>
<text x="680.6" y="146.9" font-family='"Liberation Sans", sans-serif' font-size="20.5" font-weight="bold" fill="#111111" stroke="#111111" stroke-width="0.4" textLength="509.85" lengthAdjust="spacingAndGlyphs">Kinase Selectivity Profiling at 1 μmol/L (in vitro)</text>
<text x="714.04" y="167.5" font-family='"Liberation Sans", sans-serif' font-size="18.2" fill="#222222" textLength="429.07" lengthAdjust="spacingAndGlyphs">Larger red circles represent stronger inhibition</text>
<text x="227.3" y="210.6" font-family='"Liberation Sans", sans-serif' font-size="20" font-weight="bold" fill="#FCEBD1" stroke="#FCEBD1" stroke-width="0.3" textLength="19.9" lengthAdjust="spacingAndGlyphs">IC</text>
<text x="249.9" y="214.6" font-family='"Liberation Sans", sans-serif' font-size="14" font-weight="bold" fill="#FCEBD1" stroke="#FCEBD1" stroke-width="0.45" textLength="15.48" lengthAdjust="spacingAndGlyphs">50</text>
<text x="277.8" y="210.6" font-family='"Liberation Sans", sans-serif' font-size="20" font-weight="bold" fill="#FCEBD1" stroke="#FCEBD1" stroke-width="0.3" textLength="25.71" lengthAdjust="spacingAndGlyphs">EC</text>
<text x="305.7" y="214.6" font-family='"Liberation Sans", sans-serif' font-size="14" font-weight="bold" fill="#FCEBD1" stroke="#FCEBD1" stroke-width="0.45" textLength="16.16" lengthAdjust="spacingAndGlyphs">50</text>
<text x="329.6" y="212.5" font-family='"Liberation Sans", sans-serif' font-size="20" font-weight="bold" fill="#FCEBD1" stroke="#FCEBD1" stroke-width="0.3" textLength="50.64" lengthAdjust="spacingAndGlyphs">(nM)</text>
<text x="54.56" y="243" font-family='"Liberation Sans", sans-serif' font-size="19.5" font-weight="bold" fill="#FCEBD1" stroke="#FCEBD1" stroke-width="0.3" textLength="64.69" lengthAdjust="spacingAndGlyphs">Kinase</text>
<text x="153.1" y="243" font-family='"Liberation Sans", sans-serif' font-size="19.5" font-weight="bold" fill="#FCEBD1" stroke="#FCEBD1" stroke-width="0.3" textLength="82.28" lengthAdjust="spacingAndGlyphs">Ibrutinib</text>
<text x="268.5" y="243" font-family='"Liberation Sans", sans-serif' font-size="19.5" font-weight="bold" fill="#FCEBD1" stroke="#FCEBD1" stroke-width="0.3" textLength="131.09" lengthAdjust="spacingAndGlyphs">Acalabrutinib</text>
<text x="432.5" y="243" font-family='"Liberation Sans", sans-serif' font-size="19.5" font-weight="bold" fill="#FCEBD1" stroke="#FCEBD1" stroke-width="0.3" textLength="125.16" lengthAdjust="spacingAndGlyphs">Zanubrutinib</text>
<text x="49.16" y="275.1" font-family='"Liberation Sans", sans-serif' font-size="18.6" fill="#222222" textLength="32.55" lengthAdjust="spacingAndGlyphs">BTK</text>
<g font-family='"Liberation Sans", sans-serif' font-size="18.6" fill="#222222"><path d="M184.10 262.85H187.23V275.10" fill="none" stroke="#222222" stroke-width="1.5"/><text x="188.40" y="275.1" textLength="6.09" lengthAdjust="spacingAndGlyphs">.</text><text x="194.17" y="275.1" textLength="10.72" lengthAdjust="spacingAndGlyphs">5</text></g>
<g font-family='"Liberation Sans", sans-serif' font-size="18.6" fill="#222222"><text x="324.26" y="275.1" textLength="11.12" lengthAdjust="spacingAndGlyphs">5</text><text x="335.09" y="275.1" textLength="6.31" lengthAdjust="spacingAndGlyphs">.</text><path d="M341.88 262.85H345.15V275.10" fill="none" stroke="#222222" stroke-width="1.5"/></g>
<g font-family='"Liberation Sans", sans-serif' font-size="18.6" fill="#222222"><text x="481.93" y="275.1" textLength="11.42" lengthAdjust="spacingAndGlyphs">0</text><text x="493.03" y="275.1" textLength="6.15" lengthAdjust="spacingAndGlyphs">.</text><text x="498.87" y="275.1" textLength="10.84" lengthAdjust="spacingAndGlyphs">5</text></g>
<text x="50.06" y="307.1" font-family='"Liberation Sans", sans-serif' font-size="18.6" fill="#222222" textLength="32.6" lengthAdjust="spacingAndGlyphs">TEC</text>
<g font-family='"Liberation Sans", sans-serif' font-size="18.6" fill="#222222"><path d="M186.90 294.85H189.81V307.10" fill="none" stroke="#222222" stroke-width="1.5"/><text x="192.04" y="307.1" textLength="10.65" lengthAdjust="spacingAndGlyphs">0</text></g>
<g font-family='"Liberation Sans", sans-serif' font-size="18.6" fill="#222222"><path d="M320.90 294.85H324.20V307.10" fill="none" stroke="#222222" stroke-width="1.5"/><text x="326.48" y="307.1" textLength="10.67" lengthAdjust="spacingAndGlyphs">2</text><text x="337.76" y="307.1" textLength="11.06" lengthAdjust="spacingAndGlyphs">6</text></g>
<g font-family='"Liberation Sans", sans-serif' font-size="18.6" fill="#222222"><text x="484.20" y="307.1" textLength="11.13" lengthAdjust="spacingAndGlyphs">4</text><text x="496.90" y="307.1" textLength="11.13" lengthAdjust="spacingAndGlyphs">4</text></g>
<text x="49.18" y="339.1" font-family='"Liberation Sans", sans-serif' font-size="18.6" fill="#222222" textLength="25.57" lengthAdjust="spacingAndGlyphs">ITK</text>
<g font-family='"Liberation Sans", sans-serif' font-size="18.6" fill="#222222"><text x="180.51" y="339.1" textLength="10.81" lengthAdjust="spacingAndGlyphs">4</text><text x="191.24" y="339.1" textLength="6.19" lengthAdjust="spacingAndGlyphs">.</text><text x="197.12" y="339.1" textLength="10.78" lengthAdjust="spacingAndGlyphs">9</text></g>
<g font-family='"Liberation Sans", sans-serif' font-size="18.6" fill="#222222"><text x="310.52" y="339.1" textLength="6.98" lengthAdjust="spacingAndGlyphs">&gt;</text><path d="M319.33 326.85H322.40V339.10" fill="none" stroke="#222222" stroke-width="1.5"/><text x="324.70" y="339.1" textLength="11.12" lengthAdjust="spacingAndGlyphs">0</text><text x="336.65" y="339.1" textLength="11.12" lengthAdjust="spacingAndGlyphs">0</text><text x="348.60" y="339.1" textLength="11.12" lengthAdjust="spacingAndGlyphs">0</text></g>
<g font-family='"Liberation Sans", sans-serif' font-size="18.6" fill="#222222"><text x="484.19" y="339.1" textLength="11.28" lengthAdjust="spacingAndGlyphs">5</text><text x="496.39" y="339.1" textLength="11.88" lengthAdjust="spacingAndGlyphs">0</text></g>
<text x="49.1" y="371.1" font-family='"Liberation Sans", sans-serif' font-size="18.6" fill="#222222" textLength="38.79" lengthAdjust="spacingAndGlyphs">BMX</text>
<g font-family='"Liberation Sans", sans-serif' font-size="18.6" fill="#222222"><text x="180.07" y="371.1" textLength="11.49" lengthAdjust="spacingAndGlyphs">0</text><text x="191.24" y="371.1" textLength="6.19" lengthAdjust="spacingAndGlyphs">.</text><text x="197.14" y="371.1" textLength="10.55" lengthAdjust="spacingAndGlyphs">8</text></g>
<g font-family='"Liberation Sans", sans-serif' font-size="18.6" fill="#222222"><text x="323.34" y="371.1" textLength="11.34" lengthAdjust="spacingAndGlyphs">4</text><text x="335.68" y="371.1" textLength="11.30" lengthAdjust="spacingAndGlyphs">6</text></g>
<g font-family='"Liberation Sans", sans-serif' font-size="18.6" fill="#222222"><path d="M485.00 358.85H488.13V371.10" fill="none" stroke="#222222" stroke-width="1.5"/><text x="489.30" y="371.1" textLength="6.09" lengthAdjust="spacingAndGlyphs">.</text><text x="495.46" y="371.1" textLength="10.64" lengthAdjust="spacingAndGlyphs">4</text></g>
<text x="49.22" y="403.1" font-family='"Liberation Sans", sans-serif' font-size="18.6" fill="#222222" textLength="43.59" lengthAdjust="spacingAndGlyphs">EGFR</text>
<g font-family='"Liberation Sans", sans-serif' font-size="18.6" fill="#222222"><text x="180.10" y="403.1" textLength="11.15" lengthAdjust="spacingAndGlyphs">5</text><text x="190.96" y="403.1" textLength="6.33" lengthAdjust="spacingAndGlyphs">.</text><text x="197.06" y="403.1" textLength="9.83" lengthAdjust="spacingAndGlyphs">3</text></g>
<g font-family='"Liberation Sans", sans-serif' font-size="18.6" fill="#222222"><text x="310.52" y="403.1" textLength="6.98" lengthAdjust="spacingAndGlyphs">&gt;</text><path d="M319.33 390.85H322.40V403.10" fill="none" stroke="#222222" stroke-width="1.5"/><text x="324.70" y="403.1" textLength="11.12" lengthAdjust="spacingAndGlyphs">0</text><text x="336.65" y="403.1" textLength="11.12" lengthAdjust="spacingAndGlyphs">0</text><text x="348.60" y="403.1" textLength="11.12" lengthAdjust="spacingAndGlyphs">0</text></g>
<g font-family='"Liberation Sans", sans-serif' font-size="18.6" fill="#222222"><text x="486.80" y="403.1" textLength="11.08" lengthAdjust="spacingAndGlyphs">2</text><path d="M499.55 390.85H503.00V403.10" fill="none" stroke="#222222" stroke-width="1.5"/></g>
<text x="49.15" y="435.1" font-family='"Liberation Sans", sans-serif' font-size="18.6" fill="#222222" textLength="55.23" lengthAdjust="spacingAndGlyphs">ERBB4</text>
<g font-family='"Liberation Sans", sans-serif' font-size="18.6" fill="#222222"><text x="180.20" y="435.1" textLength="9.77" lengthAdjust="spacingAndGlyphs">3</text><text x="189.76" y="435.1" textLength="6.29" lengthAdjust="spacingAndGlyphs">.</text><text x="196.13" y="435.1" textLength="10.99" lengthAdjust="spacingAndGlyphs">4</text></g>
<g font-family='"Liberation Sans", sans-serif' font-size="18.6" fill="#222222"><path d="M326.60 422.85H330.13V435.10" fill="none" stroke="#222222" stroke-width="1.5"/><text x="332.47" y="435.1" textLength="11.70" lengthAdjust="spacingAndGlyphs">6</text></g>
<g font-family='"Liberation Sans", sans-serif' font-size="18.6" fill="#222222"><text x="481.20" y="435.1" textLength="11.16" lengthAdjust="spacingAndGlyphs">6</text><text x="492.07" y="435.1" textLength="6.41" lengthAdjust="spacingAndGlyphs">.</text><text x="498.17" y="435.1" textLength="11.16" lengthAdjust="spacingAndGlyphs">9</text></g>
<text x="50.06" y="467.1" font-family='"Liberation Sans", sans-serif' font-size="18.6" fill="#222222" textLength="43.58" lengthAdjust="spacingAndGlyphs">JAK3</text>
<g font-family='"Liberation Sans", sans-serif' font-size="18.6" fill="#222222"><text x="183.01" y="467.1" textLength="10.27" lengthAdjust="spacingAndGlyphs">3</text><text x="194.21" y="467.1" textLength="11.11" lengthAdjust="spacingAndGlyphs">2</text></g>
<g font-family='"Liberation Sans", sans-serif' font-size="18.6" fill="#222222"><text x="310.52" y="467.1" textLength="6.98" lengthAdjust="spacingAndGlyphs">&gt;</text><path d="M319.33 454.85H322.40V467.10" fill="none" stroke="#222222" stroke-width="1.5"/><text x="324.70" y="467.1" textLength="11.12" lengthAdjust="spacingAndGlyphs">0</text><text x="336.65" y="467.1" textLength="11.12" lengthAdjust="spacingAndGlyphs">0</text><text x="348.60" y="467.1" textLength="11.12" lengthAdjust="spacingAndGlyphs">0</text></g>
<g font-family='"Liberation Sans", sans-serif' font-size="18.6" fill="#222222"><path d="M477.50 454.85H480.68V467.10" fill="none" stroke="#222222" stroke-width="1.5"/><text x="483.16" y="467.1" textLength="9.58" lengthAdjust="spacingAndGlyphs">3</text><text x="493.64" y="467.1" textLength="10.00" lengthAdjust="spacingAndGlyphs">7</text><text x="504.33" y="467.1" textLength="10.00" lengthAdjust="spacingAndGlyphs">7</text></g>
<text x="49.18" y="499.1" font-family='"Liberation Sans", sans-serif' font-size="18.6" fill="#222222" textLength="31.02" lengthAdjust="spacingAndGlyphs">BLK</text>
<g font-family='"Liberation Sans", sans-serif' font-size="18.6" fill="#222222"><text x="182.94" y="499.1" textLength="11.22" lengthAdjust="spacingAndGlyphs">0</text><text x="193.85" y="499.1" textLength="6.04" lengthAdjust="spacingAndGlyphs">.</text><path d="M200.35 486.85H203.45V499.10" fill="none" stroke="#222222" stroke-width="1.5"/></g>
<g font-family='"Liberation Sans", sans-serif' font-size="18.6" fill="#222222"><text x="310.52" y="499.1" textLength="6.98" lengthAdjust="spacingAndGlyphs">&gt;</text><path d="M319.33 486.85H322.40V499.10" fill="none" stroke="#222222" stroke-width="1.5"/><text x="324.70" y="499.1" textLength="11.12" lengthAdjust="spacingAndGlyphs">0</text><text x="336.65" y="499.1" textLength="11.12" lengthAdjust="spacingAndGlyphs">0</text><text x="348.60" y="499.1" textLength="11.12" lengthAdjust="spacingAndGlyphs">0</text></g>
<g font-family='"Liberation Sans", sans-serif' font-size="18.6" fill="#222222"><text x="481.79" y="499.1" textLength="10.63" lengthAdjust="spacingAndGlyphs">2</text><text x="491.98" y="499.1" textLength="6.32" lengthAdjust="spacingAndGlyphs">.</text><text x="497.98" y="499.1" textLength="11.15" lengthAdjust="spacingAndGlyphs">5</text></g>
<text x="642.2" y="481.6" font-family='"Liberation Sans", sans-serif' font-size="21" font-weight="bold" fill="#0d0d0d" stroke="#0d0d0d" stroke-width="0.4" textLength="92.68" lengthAdjust="spacingAndGlyphs">Ibrutinib</text>
<text x="1082.0" y="481.7" font-family='"Liberation Sans", sans-serif' font-size="21" font-weight="bold" fill="#0d0d0d" stroke="#0d0d0d" stroke-width="0.4" textLength="151.31" lengthAdjust="spacingAndGlyphs">Acalabrutinib</text>
<text x="653.9" y="619.6" font-family='"Liberation Sans", sans-serif' font-size="21" font-weight="bold" fill="#0d0d0d" stroke="#0d0d0d" stroke-width="0.4" textLength="143.15" lengthAdjust="spacingAndGlyphs">Zanubrutinib</text>
<text x="496.5" y="692" font-family='"Liberation Sans", sans-serif' font-size="12.8" fill="#333333" textLength="187.0" lengthAdjust="spacingAndGlyphs">Kaptein. ASH 2018. Abstr 1871.</text>
<text x="1159.5" y="683.2" font-family='"Liberation Sans", sans-serif' font-size="11.5" fill="#333333" textLength="60.59" lengthAdjust="spacingAndGlyphs">Slide credit:</text>
<text x="1059.3" y="696" font-family='"Liberation Sans", sans-serif' font-size="12" fill="#E05A24" textLength="160.8" lengthAdjust="spacingAndGlyphs">deceraclinical.com/education</text>
<text x="1251.0" y="696" font-family='"Liberation Sans", sans-serif' font-size="12" fill="#333333" textLength="5.73" lengthAdjust="spacingAndGlyphs">2</text>
<g transform="translate(61.66 674.7) scale(1.1 1)"><text x="0" y="0" font-family='"Liberation Sans", sans-serif' font-size="9.4" font-weight="bold" fill="#1a1a1a" letter-spacing="1.607">DECERA</text></g>
<g transform="translate(61.5 685.3) scale(1.1 1)"><text x="0" y="0" font-family='"Liberation Sans", sans-serif' font-size="9.4" font-weight="bold" fill="#1a1a1a" letter-spacing="2.169">CLINICAL</text></g>
<g transform="translate(61.8 695.8) scale(1.12 1)"><text x="0" y="0" font-family='"Liberation Sans", sans-serif' font-size="9.9" font-weight="bold" fill="#E04A12" letter-spacing="0.038">Education</text></g>
<line x1="267.9" y1="216.3" x2="275.1" y2="191.6" stroke="#FCEBD1" stroke-width="2.9"/>
<use href="#tree" transform="translate(738.6 323.25) scale(1.0018)"/>
<g font-family='"Liberation Sans", sans-serif' font-size="10.76" fill="#3a3a3a"><text x="665.30" y="221.95" text-anchor="middle" textLength="10.2" lengthAdjust="spacingAndGlyphs">TK</text><text x="767.75" y="201.05" text-anchor="middle" textLength="13.9" lengthAdjust="spacingAndGlyphs">TKL</text><text x="831.20" y="240.45" text-anchor="middle" textLength="13.9" lengthAdjust="spacingAndGlyphs">STE</text><text x="860.85" y="285.50" text-anchor="middle" textLength="16.9" lengthAdjust="spacingAndGlyphs">CK1</text><text x="859.60" y="346.15" text-anchor="middle" textLength="22.0" lengthAdjust="spacingAndGlyphs">AGC</text><text x="787.20" y="446.20" text-anchor="middle" textLength="28.1" lengthAdjust="spacingAndGlyphs">CAMK</text><text x="682.35" y="438.25" text-anchor="middle" textLength="32.1" lengthAdjust="spacingAndGlyphs">CMGG</text><text x="624.70" y="357.25" text-anchor="middle" textLength="29.2" lengthAdjust="spacingAndGlyphs">OTHER</text></g>
<use href="#tree" transform="translate(1108.75 320.4) scale(0.9989)"/>
<g font-family='"Liberation Sans", sans-serif' font-size="10.76" fill="#3a3a3a"><text x="1032.50" y="219.00" text-anchor="middle" textLength="10.2" lengthAdjust="spacingAndGlyphs">TK</text><text x="1135.00" y="197.60" text-anchor="middle" textLength="13.9" lengthAdjust="spacingAndGlyphs">TKL</text><text x="1198.25" y="236.50" text-anchor="middle" textLength="14.3" lengthAdjust="spacingAndGlyphs">STE</text><text x="1228.00" y="282.20" text-anchor="middle" textLength="17.7" lengthAdjust="spacingAndGlyphs">CK1</text><text x="1226.60" y="343.10" text-anchor="middle" textLength="22.6" lengthAdjust="spacingAndGlyphs">AGC</text><text x="1154.40" y="442.80" text-anchor="middle" textLength="29.0" lengthAdjust="spacingAndGlyphs">CAMK</text><text x="1049.55" y="434.70" text-anchor="middle" textLength="32.5" lengthAdjust="spacingAndGlyphs">CMGG</text><text x="991.95" y="353.65" text-anchor="middle" textLength="29.1" lengthAdjust="spacingAndGlyphs">OTHER</text></g>
<use href="#tree" transform="translate(925.7 540.5) scale(1.0050)"/>
<g font-family='"Liberation Sans", sans-serif' font-size="11.63" fill="#3a3a3a"><text x="848.70" y="438.40" text-anchor="middle" textLength="13.3" lengthAdjust="spacingAndGlyphs">TK</text><text x="952.00" y="417.20" text-anchor="middle" textLength="17.5" lengthAdjust="spacingAndGlyphs">TKL</text><text x="1015.70" y="457.10" text-anchor="middle" textLength="16.6" lengthAdjust="spacingAndGlyphs">STE</text><text x="1046.10" y="502.10" text-anchor="middle" textLength="20.8" lengthAdjust="spacingAndGlyphs">CK1</text><text x="1044.50" y="563.60" text-anchor="middle" textLength="25.8" lengthAdjust="spacingAndGlyphs">AGC</text><text x="971.60" y="663.60" text-anchor="middle" textLength="34.1" lengthAdjust="spacingAndGlyphs">CAMK</text><text x="865.90" y="656.10" text-anchor="middle" textLength="37.1" lengthAdjust="spacingAndGlyphs">CMGC</text><text x="807.80" y="574.20" text-anchor="middle" textLength="34.4" lengthAdjust="spacingAndGlyphs">OTHER</text></g>
<g fill-opacity="0.85" stroke="#B5221C" stroke-width="0.75"><circle cx="657" cy="245.8" r="4.2" fill="#E83E26"/><circle cx="667.3" cy="243.5" r="5.2" fill="#E83E26"/><circle cx="659.6" cy="249.8" r="7.3" fill="#EA4024"/><circle cx="670" cy="249.8" r="5.8" fill="#E83E26"/><circle cx="675.2" cy="256" r="6.7" fill="#E83E26"/><circle cx="665.8" cy="262.3" r="8.3" fill="#EA4024"/><circle cx="672" cy="274.8" r="8.75" fill="#EA4024"/><circle cx="684.6" cy="269.6" r="10.4" fill="#EA4024"/><circle cx="690.8" cy="242.5" r="10" fill="#EA4024"/><circle cx="706.5" cy="250.8" r="10" fill="#EA4024"/><circle cx="706.5" cy="270" r="10.4" fill="#EA4024"/><circle cx="697" cy="259" r="5.2" fill="#E83E26"/><circle cx="686.7" cy="273.75" r="6.25" fill="#E83E26"/><circle cx="673.75" cy="268.5" r="3.75" fill="#E83E26"/><circle cx="644" cy="267" r="2.9" fill="#E83E26"/><circle cx="672" cy="281.5" r="2" fill="#E83E26"/><circle cx="715.4" cy="281.7" r="2.9" fill="#E83E26"/><circle cx="699.2" cy="288" r="5.4" fill="#E83E26"/><circle cx="688" cy="294.4" r="2" fill="#E83E26"/><circle cx="688" cy="299.4" r="2" fill="#E83E26"/><circle cx="688.5" cy="306" r="2" fill="#E83E26"/><circle cx="742" cy="265.1" r="5.4" fill="#E83E26"/><circle cx="758.8" cy="257.7" r="3" fill="#E83E26"/><circle cx="772.5" cy="249" r="3.2" fill="#E83E26"/><circle cx="793.4" cy="281.3" r="8.2" fill="#EA4024"/><circle cx="796.4" cy="283" r="7.5" fill="#EA4024"/><circle cx="800.4" cy="275.6" r="2.4" fill="#E83E26"/><circle cx="807.9" cy="271.6" r="3" fill="#E83E26"/><circle cx="701" cy="353" r="2.5" fill="#E83E26"/></g>
<g fill-opacity="0.92" stroke="#B5221C" stroke-width="0.75"><circle cx="1061.7" cy="238.6" r="5.5" fill="#EF5A3A"/><circle cx="1069.2" cy="254.6" r="5.5" fill="#EF5A3A"/><circle cx="1044.5" cy="269.1" r="10.8" fill="#EC2A28"/><circle cx="1038.4" cy="262.8" r="4.3" fill="#EF5A3A"/><circle cx="1035.7" cy="258.1" r="2.8" fill="#EF5A3A"/><circle cx="1128.75" cy="254.2" r="2.9" fill="#EF5A3A"/></g>
<g fill-opacity="0.88" stroke="#B5221C" stroke-width="0.75"><circle cx="877.6" cy="458.3" r="10.6" fill="#F04A4C"/><circle cx="879.1" cy="464.2" r="5.3" fill="#E6303A"/><circle cx="885.9" cy="474.7" r="10.6" fill="#F04A4C"/><circle cx="891.9" cy="467.8" r="2.8" fill="#E6303A"/><circle cx="856.7" cy="472.8" r="10.6" fill="#F04A4C"/><circle cx="846.4" cy="465.6" r="2.8" fill="#E6303A"/><circle cx="851.1" cy="469.8" r="2.8" fill="#E6303A"/><circle cx="851.1" cy="478.3" r="5.3" fill="#E6303A"/><circle cx="860" cy="489.4" r="7.8" fill="#F04A4C"/><circle cx="856.3" cy="486.1" r="3.9" fill="#E6303A"/><circle cx="857.8" cy="480.6" r="2.8" fill="#E6303A"/><circle cx="872" cy="488.9" r="4.4" fill="#E6303A"/><circle cx="870.6" cy="486.1" r="2.4" fill="#E6303A"/><circle cx="874.4" cy="487.8" r="2.4" fill="#E6303A"/><circle cx="885.8" cy="505" r="5.3" fill="#E6303A"/><circle cx="929.2" cy="481.1" r="5.3" fill="#E6303A"/><circle cx="996.7" cy="487.4" r="5.25" fill="#E6303A"/><circle cx="988.7" cy="492.1" r="5.25" fill="#E6303A"/><circle cx="980.9" cy="497.5" r="2.7" fill="#E6303A"/></g>

</svg></body></html>
